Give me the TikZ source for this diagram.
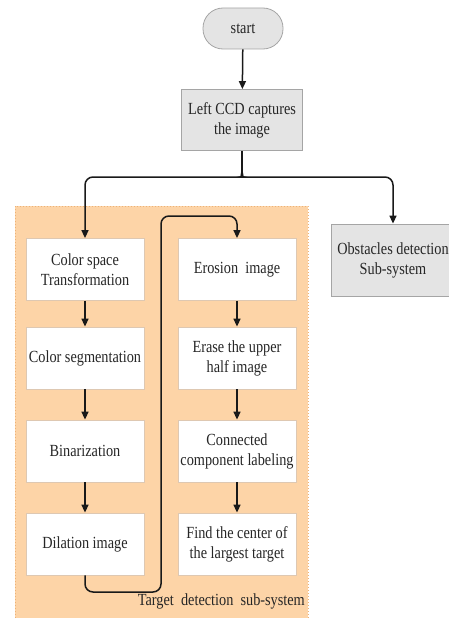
\documentclass[tikz,border=0pt]{standalone}
\usepackage{fontspec}
\setmainfont{Liberation Serif}
\newfontfamily\tnr[FakeStretch=0.84]{Liberation Serif}
\usetikzlibrary{arrows.meta}
\definecolor{orangebg}{RGB}{253,212,167}
\definecolor{orangeedge}{RGB}{236,178,120}
\definecolor{grayfill}{RGB}{228,228,228}
\definecolor{grayedge}{RGB}{165,165,165}
\definecolor{whiteedge}{RGB}{222,200,178}
\tikzset{
  base/.style={align=center, inner sep=1pt, font=\tnr\fontsize{17}{20}\selectfont, text=black!85},
  graybox/.style={base, fill=grayfill, draw=grayedge, line width=0.8pt},
  whitebox/.style={base, fill=white, draw=whiteedge, line width=0.8pt, minimum width=118pt, minimum height=62pt},
  arr/.style={line width=1.5pt, draw=black!90, -{Triangle[length=8pt,width=7pt]}},
  ln/.style={line width=1.5pt, draw=black!90},
}
\begin{document}
\begin{tikzpicture}[x=1pt,y=-1pt]
\useasboundingbox (0,0) rectangle (449,618);
\clip (0,0) rectangle (449,618);
% orange region
\fill[orangebg] (15,206) rectangle (308,630);
\draw[orangeedge, line width=1pt, dotted] (15,630) -- (15,206) -- (308,206) -- (308,630);
% nodes
\node[graybox, rounded corners=20pt, minimum width=80pt, minimum height=41pt] (start) at (243,28.5) {start};
\node[graybox, minimum width=121pt, minimum height=61pt] (ccd) at (242,120) {Left CCD captures\\the image};
\node[graybox, minimum width=124pt, minimum height=72pt] (obs) at (393,260) {Obstacles detection\\Sub-system};
\node[whitebox] (cs) at (85,269.5) {Color space\\Transformation};
\node[whitebox] (seg) at (85,358) {Color segmentation};
\node[whitebox] (bin) at (85,451) {Binarization};
\node[whitebox] (dil) at (85,544) {Dilation image};
\node[whitebox] (ero) at (237,269.5) {Erosion\ \ image};
\node[whitebox] (era) at (237,358) {Erase the upper\\half image};
\node[whitebox] (con) at (237,451) {Connected\\component labeling};
\node[whitebox] (fin) at (237,544) {Find the center of\\the largest target};
\node[base, anchor=east, inner sep=0pt] (lbl) at (305,601) {Target\ \ detection\ \ sub-system};
% connectors
\coordinate (j) at (242,171);
\coordinate (jl) at (236,177);
\coordinate (jr) at (248,177);
\coordinate (bl) at (85,177);
\coordinate (br) at (393,177);
\coordinate (d1) at (85,592);
\coordinate (d2) at (161,592);
\coordinate (d3) at (161,216);
\coordinate (d4) at (237,216);
\draw[arr] (start) -- (ccd);
\draw[ln] (ccd.south) -- (j);
\draw[arr, rounded corners=8pt] (j) to[out=-90,in=0] (jl) -- (bl) -- (cs.north);
\draw[arr, rounded corners=8pt] (j) to[out=-90,in=180] (jr) -- (br) -- (obs.north);
\draw[arr] (cs) -- (seg);
\draw[arr] (seg) -- (bin);
\draw[arr] (bin) -- (dil);
\draw[arr, rounded corners=8pt] (dil.south) -- (d1) -- (d2) -- (d3) -- (d4) -- (ero.north);
\draw[arr] (ero) -- (era);
\draw[arr] (era) -- (con);
\draw[arr] (con) -- (fin);
\end{tikzpicture}
\end{document}
